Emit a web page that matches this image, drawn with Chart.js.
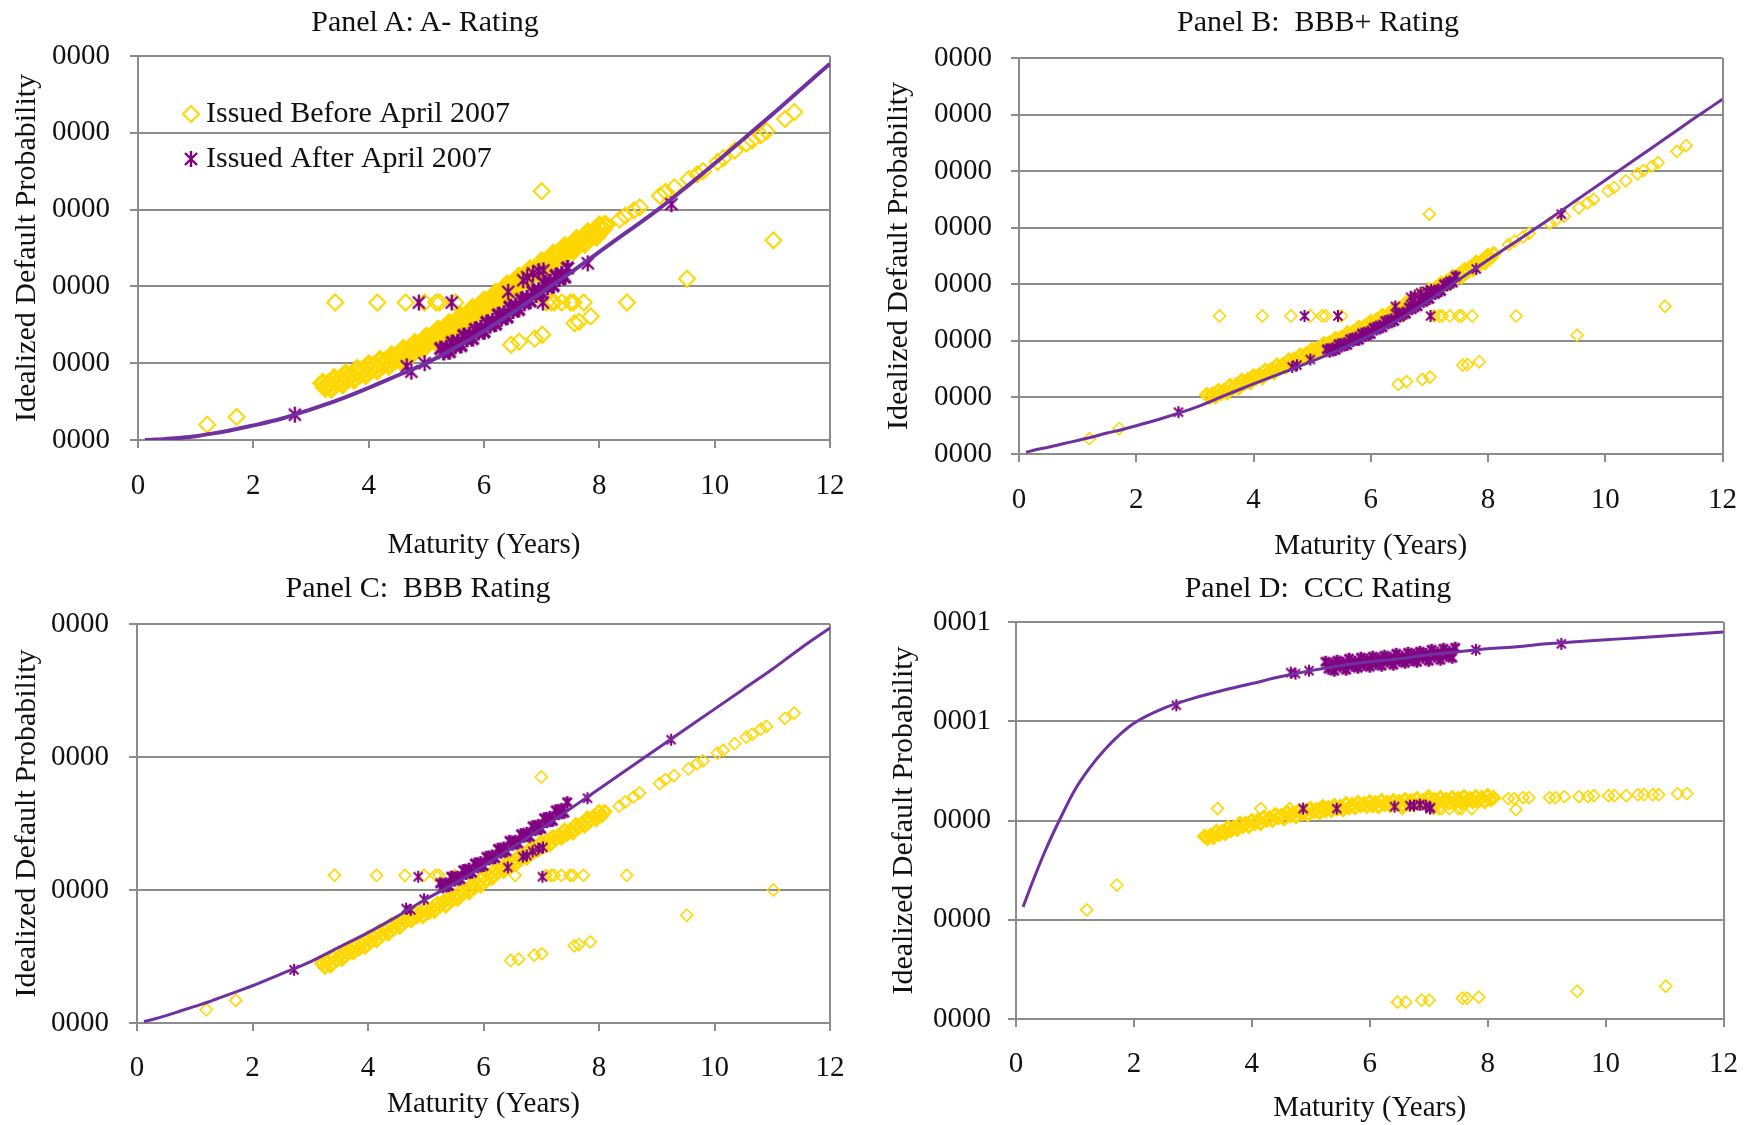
<!DOCTYPE html>
<html>
<head>
<meta charset="utf-8">
<title>Idealized default probability by maturity</title>
<script src="https://cdn.jsdelivr.net/npm/chart.js@4.4.0/dist/chart.umd.min.js"></script>
<style>
  html, body { margin: 0; padding: 0; background: #fff; }
  #wrap { position: relative; width: 1758px; height: 1125px; overflow: hidden; background: #fff; }
  #wrap canvas { position: absolute; }
  .ptitle { position: absolute; width: 600px; text-align: center; white-space: pre;
            font: 30px "Liberation Serif", "Times New Roman", serif; line-height: 36px; color: #111; }
</style>
</head>
<body>
<div id="wrap">
  <canvas id="panelA" width="879" height="562" style="left:0px; top:0px"></canvas>
  <canvas id="panelB" width="879" height="562" style="left:879px; top:0px"></canvas>
  <canvas id="panelC" width="879" height="563" style="left:0px; top:562px"></canvas>
  <canvas id="panelD" width="879" height="563" style="left:879px; top:562px"></canvas>
  <div class="ptitle" style="left:125px; top:3px">Panel A: A- Rating</div>
  <div class="ptitle" style="left:1018px; top:3px">Panel B:  BBB+ Rating</div>
  <div class="ptitle" style="left:118px; top:569px">Panel C:  BBB Rating</div>
  <div class="ptitle" style="left:1018px; top:569px">Panel D:  CCC Rating</div>
</div>
<script>
// Tick labels of the y axes (bottom to top), as printed in the source
const ticksA = ['0000', '0000', '0000', '0000', '0000', '0000'];
const ticksB = ['0000', '0000', '0000', '0000', '0000', '0000', '0000', '0000'];
const ticksC = ['0000', '0000', '0000', '0000'];
const ticksD = ['0000', '0000', '0000', '0001', '0001'];

const labelBefore = 'Issued Before April 2007';
const labelAfter = 'Issued After April 2007';

// Maturities (years) of the bonds issued before April 2007, same bonds in every panel
const maturityBefore = [
  // scattered bonds
  1.2, 1.71, 3.42, 4.15, 4.64, 4.97, 5.17, 5.23, 5.5, 6.55, 7.08, 7.17, 7.22, 7.35, 7.5, 7.55, 7.73, 8.48,
  7.0, 6.47, 6.61, 6.88, 7.01, 7.57, 7.65, 7.85, 9.52, 11.02,
  // dense band
  3.2, 3.25, 3.3, 3.35, 3.4, 3.45, 3.5, 3.55, 3.6, 3.65,
  3.7, 3.75, 3.8, 3.85, 3.9, 3.95, 4.0, 4.05, 4.1, 4.15,
  4.2, 4.25, 4.3, 4.35, 4.4, 4.45, 4.5, 4.55, 4.6, 4.65,
  4.7, 4.75, 4.8, 4.85, 4.9, 4.95, 5.0, 5.05, 5.1, 5.15,
  5.2, 5.25, 5.3, 5.35, 5.4, 5.45, 5.5, 5.55, 5.6, 5.65,
  5.7, 5.75, 5.8, 5.85, 5.9, 5.95, 6.0, 6.05, 6.1, 6.15,
  6.2, 6.25, 6.3, 6.35, 6.4, 6.45, 6.5, 6.55, 6.6, 6.65,
  6.7, 6.75, 6.8, 6.85, 6.9, 6.95, 7.0, 7.05, 7.1, 7.15,
  7.2, 7.25, 7.3, 7.35, 7.4, 7.45, 7.5, 7.55, 7.6, 7.65,
  7.7, 7.75, 7.8, 7.85, 7.9, 7.95, 8.0, 8.05, 8.1,
  // long end
  8.35, 8.45, 8.6, 8.7, 9.05, 9.15, 9.3, 9.55, 9.7, 9.8, 10.05, 10.15, 10.35, 10.55, 10.65, 10.8, 10.9, 11.22, 11.38
];

// Default probability of those bonds (in grid units of each panel)
const pdBeforeA = [
  0.2, 0.3, 1.79, 1.79, 1.79, 1.79, 1.79, 1.79, 1.79, 1.79, 1.79, 1.79, 1.79, 1.79, 1.79, 1.79, 1.79, 1.79,
  3.24, 1.24, 1.28, 1.32, 1.37, 1.52, 1.54, 1.61, 2.1, 2.6,
  0.74, 0.68, 0.73, 0.67, 0.80, 0.74, 0.79, 0.73, 0.86, 0.80,
  0.85, 0.79, 0.92, 0.86, 0.91, 0.85, 0.98, 0.92, 0.97, 0.91,
  1.04, 0.98, 1.03, 0.97, 1.10, 1.04, 1.10, 1.04, 1.18, 1.12,
  1.18, 1.12, 1.26, 1.20, 1.26, 1.20, 1.34, 1.28, 1.35, 1.29,
  1.43, 1.37, 1.44, 1.38, 1.52, 1.46, 1.53, 1.47, 1.61, 1.56,
  1.62, 1.57, 1.71, 1.66, 1.72, 1.67, 1.81, 1.76, 1.82, 1.77,
  1.91, 1.86, 1.93, 1.87, 2.02, 1.97, 2.03, 1.98, 2.12, 2.07,
  2.13, 2.08, 2.22, 2.17, 2.23, 2.18, 2.32, 2.27, 2.33, 2.28,
  2.42, 2.37, 2.43, 2.38, 2.52, 2.46, 2.53, 2.47, 2.61, 2.56,
  2.62, 2.56, 2.70, 2.65, 2.71, 2.65, 2.79, 2.74, 2.80,
  2.87, 2.92, 2.99, 3.03, 3.18, 3.23, 3.29, 3.40, 3.46, 3.50, 3.62, 3.67, 3.77, 3.86, 3.90, 3.97, 4.02, 4.18, 4.27
];
const pdBeforeB = [
  0.27, 0.45, 2.44, 2.44, 2.44, 2.44, 2.44, 2.44, 2.44, 2.44, 2.44, 2.44, 2.44, 2.44, 2.44, 2.44, 2.44, 2.44,
  4.24, 1.23, 1.28, 1.32, 1.36, 1.57, 1.58, 1.63, 2.1, 2.61,
  1.05, 1.00, 1.06, 1.01, 1.12, 1.07, 1.13, 1.08, 1.21, 1.16,
  1.22, 1.17, 1.30, 1.25, 1.31, 1.26, 1.38, 1.34, 1.40, 1.35,
  1.48, 1.43, 1.49, 1.44, 1.57, 1.52, 1.58, 1.54, 1.66, 1.61,
  1.68, 1.63, 1.75, 1.71, 1.77, 1.73, 1.85, 1.81, 1.87, 1.82,
  1.95, 1.90, 1.97, 1.92, 2.04, 2.00, 2.06, 2.02, 2.14, 2.10,
  2.16, 2.12, 2.24, 2.20, 2.26, 2.22, 2.34, 2.30, 2.37, 2.32,
  2.45, 2.41, 2.47, 2.43, 2.56, 2.52, 2.58, 2.54, 2.67, 2.63,
  2.70, 2.66, 2.79, 2.75, 2.81, 2.77, 2.90, 2.86, 2.93, 2.89,
  3.02, 2.98, 3.05, 3.01, 3.14, 3.10, 3.17, 3.13, 3.26, 3.22,
  3.30, 3.26, 3.39, 3.35, 3.42, 3.38, 3.51, 3.47, 3.54,
  3.70, 3.76, 3.84, 3.90, 4.08, 4.13, 4.20, 4.35, 4.44, 4.50, 4.65, 4.71, 4.83, 4.95, 5.01, 5.09, 5.15, 5.35, 5.45
];
const pdBeforeC = [
  0.1, 0.17, 1.11, 1.11, 1.11, 1.11, 1.11, 1.11, 1.11, 1.11, 1.11, 1.11, 1.11, 1.11, 1.11, 1.11, 1.11, 1.11,
  1.85, 0.47, 0.48, 0.51, 0.52, 0.58, 0.59, 0.61, 0.81, 1.0,
  0.45, 0.42, 0.46, 0.43, 0.50, 0.47, 0.50, 0.48, 0.54, 0.52,
  0.55, 0.53, 0.59, 0.56, 0.60, 0.57, 0.64, 0.61, 0.65, 0.62,
  0.69, 0.66, 0.70, 0.67, 0.74, 0.71, 0.75, 0.72, 0.78, 0.76,
  0.79, 0.77, 0.83, 0.80, 0.83, 0.80, 0.86, 0.83, 0.86, 0.84,
  0.90, 0.88, 0.91, 0.88, 0.94, 0.92, 0.95, 0.93, 0.99, 0.97,
  1.00, 0.98, 1.04, 1.02, 1.05, 1.03, 1.10, 1.07, 1.11, 1.09,
  1.15, 1.13, 1.16, 1.14, 1.20, 1.18, 1.21, 1.19, 1.25, 1.23,
  1.27, 1.24, 1.31, 1.28, 1.32, 1.30, 1.36, 1.33, 1.37, 1.34,
  1.40, 1.38, 1.41, 1.39, 1.45, 1.42, 1.45, 1.43, 1.49, 1.47,
  1.50, 1.48, 1.54, 1.52, 1.55, 1.53, 1.59, 1.56, 1.59,
  1.63, 1.66, 1.70, 1.73, 1.80, 1.83, 1.86, 1.91, 1.95, 1.97, 2.03, 2.05, 2.10, 2.15, 2.17, 2.21, 2.23, 2.29, 2.33
];
const pdBeforeD = [
  1.1, 1.35, 2.12, 2.12, 2.12, 2.12, 2.12, 2.12, 2.12, 2.12, 2.12, 2.12, 2.12, 2.12, 2.12, 2.12, 2.12, 2.11,
  2.25, 0.17, 0.17, 0.19, 0.19, 0.21, 0.21, 0.22, 0.28, 0.33,
  1.84, 1.82, 1.85, 1.83, 1.89, 1.86, 1.89, 1.87, 1.93, 1.90,
  1.93, 1.91, 1.97, 1.94, 1.97, 1.94, 2.00, 1.97, 2.00, 1.97,
  2.03, 2.00, 2.03, 2.00, 2.06, 2.03, 2.05, 2.02, 2.08, 2.05,
  2.07, 2.04, 2.10, 2.07, 2.09, 2.06, 2.12, 2.09, 2.11, 2.08,
  2.14, 2.10, 2.13, 2.10, 2.15, 2.12, 2.14, 2.11, 2.17, 2.13,
  2.16, 2.13, 2.18, 2.15, 2.17, 2.14, 2.19, 2.15, 2.18, 2.14,
  2.20, 2.16, 2.18, 2.15, 2.20, 2.17, 2.19, 2.15, 2.21, 2.17,
  2.20, 2.16, 2.22, 2.18, 2.20, 2.17, 2.22, 2.18, 2.21, 2.17,
  2.23, 2.19, 2.21, 2.18, 2.23, 2.19, 2.22, 2.18, 2.24, 2.20,
  2.22, 2.19, 2.24, 2.20, 2.23, 2.19, 2.25, 2.21, 2.23,
  2.22, 2.22, 2.23, 2.23, 2.23, 2.23, 2.24, 2.24, 2.24, 2.25, 2.25, 2.25, 2.25, 2.26, 2.26, 2.26, 2.26, 2.27, 2.27
];

// Maturities of the bonds issued after April 2007
const maturityAfter = [
  2.72, 4.66, 4.74, 4.97, 7.8, 9.25, 4.87, 5.44, 7.02, 6.42, 6.68, 6.75, 6.85, 6.95, 7.03,
  5.25, 5.3, 5.35, 5.4, 5.45, 5.5, 5.55, 5.6, 5.65, 5.7,
  5.75, 5.8, 5.85, 5.9, 5.95, 6.0, 6.05, 6.1, 6.15, 6.2,
  6.25, 6.3, 6.35, 6.4, 6.45, 6.5, 6.55, 6.6, 6.65, 6.7,
  6.75, 6.8, 6.85, 6.9, 6.95, 7.0, 7.05, 7.1, 7.15, 7.2,
  7.25, 7.3, 7.35, 7.4, 7.45
];
const pdAfterA = [
  0.33, 0.96, 0.89, 1.0, 2.3, 3.07, 1.79, 1.79, 1.79, 1.93, 2.08, 2.12, 2.17, 2.2, 2.21,
  1.19, 1.14, 1.20, 1.15, 1.27, 1.22, 1.28, 1.23, 1.36, 1.31,
  1.37, 1.32, 1.44, 1.40, 1.46, 1.41, 1.53, 1.49, 1.55, 1.51,
  1.63, 1.58, 1.65, 1.60, 1.73, 1.68, 1.75, 1.70, 1.83, 1.78,
  1.85, 1.81, 1.93, 1.89, 1.95, 1.91, 2.04, 1.99, 2.06, 2.01,
  2.14, 2.10, 2.16, 2.12, 2.24
];
const pdAfterB = [
  0.74, 1.54, 1.57, 1.67, 3.27, 4.24, 2.44, 2.44, 2.44, 2.61, 2.77, 2.8, 2.85, 2.88, 2.9,
  1.85, 1.81, 1.87, 1.84, 1.94, 1.90, 1.96, 1.93, 2.03, 2.00,
  2.06, 2.02, 2.13, 2.09, 2.16, 2.12, 2.23, 2.20, 2.27, 2.24,
  2.35, 2.31, 2.38, 2.35, 2.46, 2.43, 2.50, 2.48, 2.59, 2.56,
  2.64, 2.61, 2.72, 2.69, 2.77, 2.74, 2.86, 2.83, 2.91, 2.88,
  3.00, 2.98, 3.05, 3.03, 3.14
];
const pdAfterC = [
  0.4, 0.86, 0.85, 0.93, 1.69, 2.13, 1.1, 1.1, 1.1, 1.17, 1.25, 1.26, 1.29, 1.31, 1.32,
  1.05, 1.02, 1.05, 1.03, 1.10, 1.07, 1.10, 1.08, 1.15, 1.12,
  1.16, 1.13, 1.20, 1.17, 1.21, 1.18, 1.25, 1.23, 1.26, 1.24,
  1.31, 1.28, 1.32, 1.29, 1.37, 1.34, 1.37, 1.35, 1.42, 1.40,
  1.43, 1.40, 1.48, 1.45, 1.49, 1.46, 1.54, 1.51, 1.55, 1.52,
  1.60, 1.57, 1.61, 1.58, 1.66
];
const pdAfterD = [
  3.16, 3.49, 3.48, 3.51, 3.72, 3.78, 2.12, 2.12, 2.12, 2.14, 2.15, 2.15, 2.16, 2.15, 2.13,
  3.60, 3.53, 3.58, 3.51, 3.61, 3.55, 3.59, 3.52, 3.63, 3.56,
  3.60, 3.54, 3.64, 3.57, 3.62, 3.55, 3.65, 3.58, 3.63, 3.56,
  3.66, 3.60, 3.64, 3.57, 3.68, 3.61, 3.65, 3.59, 3.69, 3.62,
  3.67, 3.60, 3.70, 3.64, 3.68, 3.61, 3.72, 3.65, 3.69, 3.62,
  3.73, 3.66, 3.70, 3.64, 3.74
];

// Idealized default probability curve of each rating
const curveMaturity = [0.12, 0.3, 0.5, 0.75, 1, 1.25, 1.5, 1.75, 2, 2.5, 3, 3.5, 4, 4.5, 5, 5.5, 6, 6.5, 7, 7.5, 8, 8.5, 9, 9.5, 10, 10.5, 11, 11.5, 12];
const curveA = [0.0, 0.005, 0.015, 0.03, 0.05, 0.08, 0.11, 0.15, 0.19, 0.28, 0.4, 0.53, 0.68, 0.84, 1.0, 1.2, 1.42, 1.66, 1.92, 2.18, 2.45, 2.72, 2.99, 3.29, 3.6, 3.92, 4.24, 4.57, 4.9];
const curveB = [0.03, 0.08, 0.12, 0.18, 0.24, 0.3, 0.37, 0.43, 0.5, 0.65, 0.82, 1.03, 1.24, 1.44, 1.64, 1.86, 2.1, 2.39, 2.72, 3.08, 3.43, 3.77, 4.12, 4.48, 4.84, 5.2, 5.56, 5.92, 6.27];
const curveC = [0.01, 0.03, 0.055, 0.09, 0.125, 0.16, 0.2, 0.24, 0.28, 0.37, 0.46, 0.57, 0.68, 0.8, 0.93, 1.05, 1.18, 1.32, 1.46, 1.61, 1.76, 1.91, 2.06, 2.21, 2.36, 2.51, 2.66, 2.82, 2.97];
const curveD = [1.13, 1.41, 1.7, 2.02, 2.31, 2.53, 2.71, 2.86, 2.98, 3.13, 3.23, 3.31, 3.38, 3.45, 3.51, 3.56, 3.6, 3.63, 3.67, 3.7, 3.73, 3.75, 3.78, 3.8, 3.82, 3.84, 3.86, 3.88, 3.9];

// where the crowded groups start in the arrays above
const crowdBefore = [28, 127];
const crowdAfter = 15;

const serif = '"Liberation Serif", "Times New Roman", serif';
const gridGray = '#8c8c8c';
const gold = '#FFD700';
const plum = '#800080';
const lineViolet = '#7030A0';

Chart.defaults.font.family = serif;
Chart.defaults.color = '#111';

// Asterisk marker like Excel's: vertical stroke plus an X
function starMarker(size, width) {
  const c = document.createElement('canvas');
  c.width = size;
  c.height = size;
  const g = c.getContext('2d');
  const m = size / 2, r = size / 2 - 1, d = r * 0.75;
  g.strokeStyle = plum;
  g.lineWidth = width;
  g.beginPath();
  g.moveTo(m, m - r); g.lineTo(m, m + r);
  g.moveTo(m - d, m - d); g.lineTo(m + d, m + d);
  g.moveTo(m + d, m - d); g.lineTo(m - d, m + d);
  g.stroke();
  return c;
}

function toPoints(xs, ys) {
  return xs.map((x, i) => ({ x: x, y: ys[i] }));
}

function inCrowd(i) {
  return i >= crowdBefore[0] && i < crowdBefore[1];
}

// Legend drawn inside the plot of panel A
const insideLegend = {
  id: 'insideLegend',
  afterDraw(chart, args, opts) {
    const ctx = chart.ctx;
    const a = chart.chartArea;
    const mx = a.left + 53, tx = a.left + 68;
    const y1 = a.top + 58, y2 = a.top + 103;
    ctx.save();
    ctx.strokeStyle = gold;
    ctx.lineWidth = 2;
    ctx.beginPath();
    ctx.moveTo(mx, y1 - 8); ctx.lineTo(mx + 8, y1); ctx.lineTo(mx, y1 + 8); ctx.lineTo(mx - 8, y1);
    ctx.closePath();
    ctx.stroke();
    const s = opts.star;
    ctx.drawImage(s, Math.round(mx - s.width / 2), Math.round(y2 - s.height / 2));
    ctx.fillStyle = '#111';
    ctx.font = '30px ' + serif;
    ctx.textBaseline = 'middle';
    ctx.fillText(labelBefore, tx, y1);
    ctx.fillText(labelAfter, tx, y2);
    ctx.restore();
  }
};

const panels = [
  { canvas: 'panelA', before: pdBeforeA, after: pdAfterA, curve: curveA, ticks: ticksA, yMax: 5,
    chartTop: 56, yWidth: 138, yTitlePad: 10.5, yTickPad: 20, xHeight: 122, xTickPad: 21, xTitlePad: 1, padRight: 49,
    diamond: 8, diamondBorder: 2, crowdBorder: 4, star: 18, starWidth: 2.4, crowdStarWidth: 3.4, lineWidth: 4, legend: true },
  { canvas: 'panelB', before: pdBeforeB, after: pdAfterB, curve: curveB, ticks: ticksB, yMax: 7,
    chartTop: 58, yWidth: 140, yTitlePad: 3.5, yTickPad: 19, xHeight: 108, xTickPad: 21, xTitlePad: 0, padRight: 33,
    diamond: 6, diamondBorder: 1.6, crowdBorder: 3, star: 14, starWidth: 2, crowdStarWidth: 3, lineWidth: 3 },
  { canvas: 'panelC', before: pdBeforeC, after: pdAfterC, curve: curveC, ticks: ticksC, yMax: 3,
    chartTop: 62, yWidth: 137, yTitlePad: 10.5, yTickPad: 20, xHeight: 102, xTickPad: 20, xTitlePad: 5, padRight: 49,
    diamond: 6, diamondBorder: 1.6, crowdBorder: 3, star: 14, starWidth: 2, crowdStarWidth: 3, lineWidth: 3 },
  { canvas: 'panelD', before: pdBeforeD, after: pdAfterD, curve: curveD, ticks: ticksD, yMax: 4,
    chartTop: 60, yWidth: 137, yTitlePad: 8.5, yTickPad: 17, xHeight: 106, xTickPad: 20, xTitlePad: 1, padRight: 34,
    diamond: 6, diamondBorder: 1.6, crowdBorder: 3, star: 14, starWidth: 2, crowdStarWidth: 3, lineWidth: 3 }
];

for (const p of panels) {
  const star = starMarker(p.star, p.starWidth);
  const crowdStar = starMarker(p.star, p.crowdStarWidth);
  new Chart(document.getElementById(p.canvas), {
    type: 'scatter',
    data: {
      datasets: [
        {
          label: 'Idealized curve',
          data: toPoints(curveMaturity, p.curve),
          showLine: true,
          borderColor: lineViolet,
          borderWidth: p.lineWidth,
          pointRadius: 0,
          cubicInterpolationMode: 'monotone',
          order: 0
        },
        {
          label: labelAfter,
          data: toPoints(maturityAfter, p.after),
          pointStyle: (c) => c.dataIndex >= crowdAfter ? crowdStar : star,
          pointRadius: p.star / 2,
          order: 1
        },
        {
          label: labelBefore,
          data: toPoints(maturityBefore, p.before),
          pointStyle: 'rectRot',
          pointRadius: p.diamond,
          borderColor: gold,
          pointBorderColor: gold,
          pointBorderWidth: (c) => inCrowd(c.dataIndex) ? p.crowdBorder : p.diamondBorder,
          backgroundColor: 'rgba(0,0,0,0)',
          pointBackgroundColor: 'rgba(0,0,0,0)',
          order: 2
        }
      ]
    },
    options: {
      responsive: false,
      animation: false,
      devicePixelRatio: 1,
      events: [],
      layout: { padding: { left: 0, top: p.chartTop, right: p.padRight, bottom: 0 } },
      plugins: {
        legend: { display: false },
        tooltip: { enabled: false },
        insideLegend: { star: star }
      },
      scales: {
        x: {
          type: 'linear',
          min: 0,
          max: 12,
          ticks: { stepSize: 2, padding: p.xTickPad, font: { size: 29, lineHeight: 1.2 }, color: '#111' },
          grid: {
            color: (c) => (c.tick && c.tick.value === 12) ? gridGray : 'rgba(0,0,0,0)',
            tickColor: gridGray,
            lineWidth: 2,
            tickWidth: 2,
            tickLength: 8
          },
          border: { color: gridGray, width: 2 },
          title: { display: true, text: 'Maturity (Years)', font: { size: 29, lineHeight: 1.1 },
                   padding: { top: 0, bottom: p.xTitlePad }, color: '#111' },
          afterFit: (scale) => { scale.height = p.xHeight; }
        },
        y: {
          type: 'linear',
          min: 0,
          max: p.yMax,
          ticks: {
            stepSize: 1,
            padding: p.yTickPad,
            font: { size: 29 },
            color: '#111',
            callback: (value) => p.ticks[Math.round(value)]
          },
          grid: { color: gridGray, lineWidth: 2, tickLength: 8, tickWidth: 2 },
          border: { color: gridGray, width: 2 },
          title: { display: true, text: 'Idealized Default Probability', font: { size: 30, lineHeight: 1.1 },
                   padding: { top: p.yTitlePad, bottom: 0 }, color: '#111' },
          afterFit: (scale) => { scale.width = p.yWidth; }
        }
      }
    },
    plugins: p.legend ? [insideLegend] : []
  });
}
</script>
</body>
</html>
